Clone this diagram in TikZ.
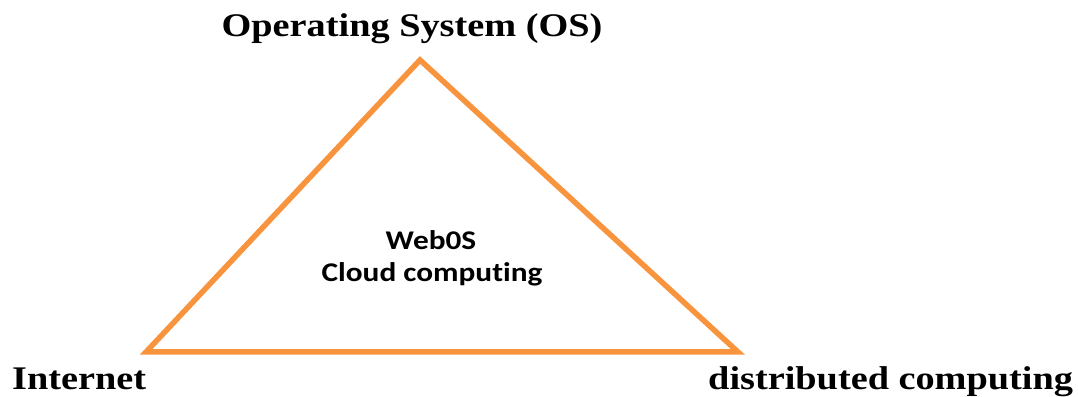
\documentclass[tikz,border=0pt]{standalone}
\usepackage{fontspec}
\setmainfont{Liberation Serif}
\newfontfamily\calib[Ligatures=NoCommon]{Carlito}
\usetikzlibrary{positioning}
\definecolor{edgeorange}{RGB}{249,148,62}

\begin{document}
\begin{tikzpicture}[x=1pt, y=1pt,
corner/.style = {font=\fontsize{33}{38}\selectfont\bfseries, inner sep=0pt, xscale=1.16, transform shape},
inner/.style = {font=\calib\fontsize{27}{32}\selectfont\bfseries, inner sep=0pt, xscale=1.16, transform shape},
side/.style = {draw=edgeorange, line width=5.5pt},
                    ]
    \useasboundingbox (0,0) rectangle (1078,396);
    \coordinate (os) at (420,336);
    \coordinate (net) at (146,44);
    \coordinate (dist) at (738,44);
    \node [corner, anchor=base]         (oslabel) at (412,359) {Operating System (OS)};
    \node [corner, anchor=base west]    (netlabel) at (12,7) {Internet};
    \node [corner, anchor=base west]    (distlabel) at (708,7) {distributed computing};
    \node [inner, anchor=base]          (webos) at (431,146) {Web0S};
    \node [inner, anchor=base]          (cloud) at (432,114) {Cloud computing};
    \draw [side] (os) -- (net) -- (dist) -- cycle;
\end{tikzpicture}
\end{document}
